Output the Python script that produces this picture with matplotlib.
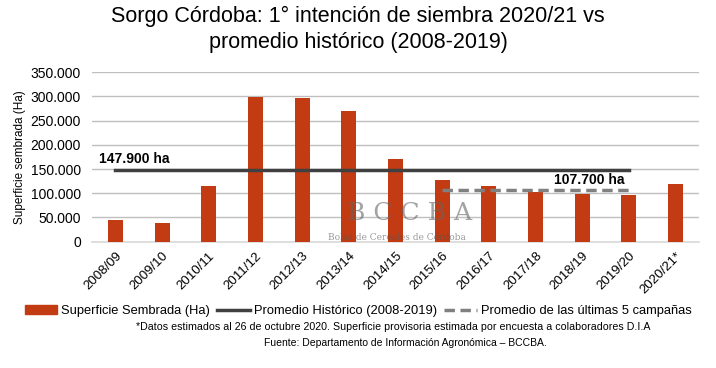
import numpy as np
import matplotlib.pyplot as plt
from matplotlib.lines import Line2D
from matplotlib.patches import Patch

plt.rcParams['font.family'] = ['Liberation Sans', 'DejaVu Sans']

# datos
campanas = ["2008/09", "2009/10", "2010/11", "2011/12", "2012/13", "2013/14", "2014/15",
            "2015/16", "2016/17", "2017/18", "2018/19", "2019/20", "2020/21*"]
superficie = [45000, 38500, 115500, 299000, 297500, 270000, 171500,
              126500, 115000, 102000, 98500, 96500, 118500]
prom_historico = 147900
prom_5 = 107700

color_barra = "#C23B12"

fig = plt.figure(figsize=(7.16, 3.68), dpi=100)
ax = fig.add_axes([92 / 716, 1 - 241.7 / 368, 607 / 716, 169.4 / 368])

x = np.arange(len(campanas))
ax.bar(x, superficie, width=0.32, color=color_barra, zorder=3)

# promedio historico (2008/09 - 2019/20)
ax.plot([x[0], x[11]], [prom_historico, prom_historico], color="#404040", lw=2.5, zorder=4)
# promedio ultimas 5 campañas
ax.plot([x[7], x[11]], [prom_5, prom_5], color="#808080", lw=2.5,
        dashes=(3, 1.6), zorder=4)

ax.text(-0.35, prom_historico + 9000, "147.900 ha", fontsize=10, fontweight="bold",
        va="bottom", ha="left")
ax.text(9.4, prom_5 + 6000, "107.700 ha", fontsize=10, fontweight="bold",
        va="bottom", ha="left")

ax.set_xlim(-0.5, len(campanas) - 0.5)
ax.set_ylim(0, 350000)
ax.set_yticks(np.arange(0, 350001, 50000))
ax.set_yticklabels([f"{v:,}".replace(",", ".") for v in range(0, 350001, 50000)], fontsize=10)
ax.set_xticks(x)
ax.set_xticklabels(campanas, rotation=45, ha="right", rotation_mode="anchor", fontsize=9.5)
ax.tick_params(length=0)
ax.tick_params(axis="x", pad=6)
ax.tick_params(axis="y", pad=8)
ax.grid(axis="y", color="#BFBFBF", lw=1, zorder=0)
for s in ["top", "right", "left"]:
    ax.spines[s].set_visible(False)
ax.spines["bottom"].set_color("#D9D9D9")
ax.spines["bottom"].set_linewidth(1.2)
ax.set_ylabel("Superficie sembrada (Ha)", fontsize=8.5, labelpad=3)

# marca de agua
ax.text(6.3, 59000, "B C C B A", fontsize=18, family="serif", color="#666666",
        alpha=0.6, ha="center", va="center", zorder=5)
ax.text(6.04, 9700, "Bolsa de Cereales de Córdoba", fontsize=6.5, family="serif",
        color="#555555", alpha=0.6, ha="center", va="center", zorder=5)

fig.text(0.5, 0.985, "Sorgo Córdoba: 1° intención de siembra 2020/21 vs\npromedio histórico (2008-2019)",
         ha="center", va="top", fontsize=15.5, linespacing=1.35)

handles = [Patch(color=color_barra),
           Line2D([], [], color="#404040", lw=2.5),
           Line2D([], [], color="#808080", lw=2.5, dashes=(3, 1.6))]
labels = ["Superficie Sembrada (Ha)", "Promedio Histórico (2008-2019)",
          "Promedio de las últimas 5 campañas"]
fig.legend(handles, labels, loc="center", bbox_to_anchor=(358 / 716, 1 - 311 / 368), ncol=3,
           frameon=False, fontsize=9.3, handlelength=2.5, handletextpad=0.3,
           columnspacing=0.6, handleheight=0.6)

fig.text(0.549, 1 - 327 / 368,
         "*Datos estimados al 26 de octubre 2020. Superficie provisoria estimada por encuesta a colaboradores D.I.A",
         ha="center", va="center", fontsize=7.7)
fig.text(0.566, 1 - 343 / 368, "Fuente: Departamento de Información Agronómica – BCCBA.",
         ha="center", va="center", fontsize=7.5)

fig.savefig("out.png", dpi=100)
